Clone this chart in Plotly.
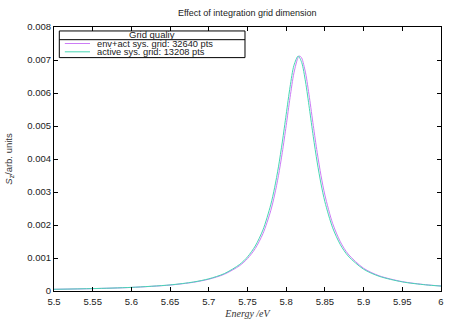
import plotly.graph_objects as go

# Data
energy_teal = [5.50, 5.55, 5.60, 5.65, 5.68, 5.70, 5.72, 5.74, 5.75, 5.76, 5.77, 5.78,
               5.785, 5.79, 5.795, 5.80, 5.805, 5.81, 5.8155, 5.82, 5.825, 5.83, 5.835,
               5.84, 5.845, 5.85, 5.86, 5.87, 5.88, 5.90, 5.92, 5.95, 5.98, 6.00]
signal_teal = [0.0000518, 0.0000729, 0.000110, 0.0001846, 0.000272, 0.000369, 0.000527,
               0.000807, 0.001034, 0.001363, 0.001854, 0.002610, 0.003128, 0.003763,
               0.004518, 0.005355, 0.006186, 0.006836, 0.007120, 0.006927, 0.006336,
               0.005526, 0.004679, 0.003905, 0.003245, 0.002704, 0.001916, 0.001403,
               0.001062, 0.000660, 0.000446, 0.000276, 0.0001868, 0.0001493]

energy_mag = [5.50, 5.55, 5.60, 5.65, 5.68, 5.70, 5.72, 5.74, 5.75, 5.76, 5.77, 5.78,
              5.785, 5.79, 5.795, 5.80, 5.805, 5.81, 5.8155, 5.8175, 5.82, 5.825, 5.83,
              5.835, 5.84, 5.845, 5.85, 5.86, 5.87, 5.88, 5.90, 5.92, 5.95, 5.98, 6.00]
signal_mag = [0.0000511, 0.0000718, 0.000108, 0.0001802, 0.000264, 0.000357, 0.000507,
              0.000771, 0.000982, 0.001286, 0.001739, 0.002431, 0.002907, 0.003495,
              0.004203, 0.005014, 0.005865, 0.006610, 0.007081, 0.007120, 0.007060,
              0.006610, 0.005865, 0.005014, 0.004203, 0.003495, 0.002907, 0.002047,
              0.001489, 0.001120, 0.000689, 0.000462, 0.000284, 0.000191, 0.0001524]

series_names = ["env+act sys. grid: 32640 pts", "active sys. grid: 13208 pts"]
series_colors = ["#cc7cf6", "#46d6b4"]
legend_title = "Grid qualiy"

x_ticks = [5.5, 5.55, 5.6, 5.65, 5.7, 5.75, 5.8, 5.85, 5.9, 5.95, 6.0]
x_ticktext = ["5.5", "5.55", "5.6", "5.65", "5.7", "5.75", "5.8", "5.85", "5.9", "5.95", "6"]
y_ticks = [0, 0.001, 0.002, 0.003, 0.004, 0.005, 0.006, 0.007, 0.008]
y_ticktext = ["0", "0.001", "0.002", "0.003", "0.004", "0.005", "0.006", "0.007", "0.008"]

FONT = "Liberation Sans, Arial, sans-serif"
TXT = "#222"

fig = go.Figure()
fig.add_trace(go.Scatter(x=energy_mag, y=signal_mag, mode="lines", name=series_names[0],
                         line=dict(color=series_colors[0], width=1, shape="spline", smoothing=0.8)))
fig.add_trace(go.Scatter(x=energy_teal, y=signal_teal, mode="lines", name=series_names[1],
                         line=dict(color=series_colors[1], width=1, shape="spline", smoothing=0.8)))

axis_common = dict(showline=True, linecolor="black", linewidth=1, mirror="allticks",
                   ticks="inside", ticklen=4, tickcolor="black", tickwidth=1,
                   showgrid=False, zeroline=False, automargin=False,
                   tickfont=dict(family=FONT, size=9.5, color=TXT))

# Hand-built gnuplot-style legend box (paper coordinates)
box_x0, box_x1, box_y0, box_y1 = 0.0137, 0.4935, 0.884, 0.985
sep_y = 0.952
title_y = 0.970
entry_y = [0.9375, 0.906]
sample_x0, sample_x1, text_x = 0.028, 0.093, 0.107

shapes = [
    dict(type="rect", xref="paper", yref="paper", x0=box_x0, x1=box_x1, y0=box_y0, y1=box_y1,
         line=dict(color="black", width=1), fillcolor="white", layer="above"),
    dict(type="line", xref="paper", yref="paper", x0=box_x0, x1=box_x1, y0=sep_y, y1=sep_y,
         line=dict(color="black", width=1), layer="above"),
]
annotations = [
    dict(text=legend_title, xref="paper", yref="paper", x=(box_x0 + box_x1) / 2, y=title_y,
         xanchor="center", yanchor="middle", showarrow=False,
         font=dict(family=FONT, size=9.5, color=TXT)),
]
for name, color, yy in zip(series_names, series_colors, entry_y):
    shapes.append(dict(type="line", xref="paper", yref="paper", x0=sample_x0, x1=sample_x1,
                       y0=yy, y1=yy, line=dict(color=color, width=1), layer="above"))
    annotations.append(dict(text=name, xref="paper", yref="paper", x=text_x, y=yy,
                            xanchor="left", yanchor="middle", showarrow=False,
                            font=dict(family=FONT, size=9.3, color=TXT)))

fig.update_layout(
    width=457, height=320,
    margin=dict(l=54, r=16, t=27, b=29),
    paper_bgcolor="white", plot_bgcolor="white",
    title=dict(text="Effect of integration grid dimension", x=0.541, xanchor="center",
               y=1 - 13 / 320, yanchor="middle", yref="container",
               font=dict(family=FONT, size=9, color=TXT)),
    xaxis=dict(range=[5.5, 6.0], tickvals=x_ticks, ticktext=x_ticktext, ticklabelstandoff=2,
               title=dict(text="<i>Energy /eV</i>", standoff=3,
                          font=dict(family="Liberation Serif, Times New Roman, serif", size=10, color="#333")),
               **axis_common),
    yaxis=dict(range=[0, 0.008], tickvals=y_ticks, ticktext=y_ticktext,
               title=dict(text="<i>S</i><sub>z</sub>/arb. units", standoff=12,
                          font=dict(family=FONT, size=9.5, color="#333")),
               **axis_common),
    showlegend=False,
    shapes=shapes,
    annotations=annotations,
)

fig.write_html("out.html", config={"displayModeBar": False},
               post_script="document.body.style.margin='0';document.body.style.padding='0';")
